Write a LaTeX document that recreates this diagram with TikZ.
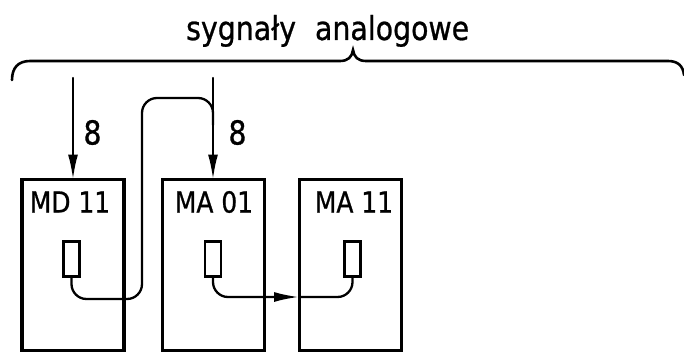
\documentclass[tikz,border=0pt]{standalone}
\usepackage{fontspec}
\setmainfont{DejaVu Sans}[FakeStretch=0.86, FakeBold=0.8]
\usetikzlibrary{arrows.meta}

\tikzset{
  module/.style={draw, line width=3.2pt, minimum width=102pt, minimum height=171pt,
    inner sep=0pt, outer sep=0pt},
  slot/.style={draw, line width=2.8pt, minimum width=16pt, minimum height=35pt,
    inner sep=0pt, outer sep=0pt},
  modlabel/.style={inner sep=0pt, font=\fontsize{29pt}{30pt}\selectfont},
  count/.style={inner sep=0pt, font=\fontsize{33pt}{34pt}\selectfont},
  wire/.style={line width=2.3pt, line cap=round, line join=round},
  feed/.style={wire, -{Latex[length=25pt, width=10pt]}},
  bracestroke/.style={line width=2.6pt, line cap=round},
}

\begin{document}
\begin{tikzpicture}[x=1pt, y=-1pt]
  \useasboundingbox (0,0) rectangle (684,353);

  % modules
  \node[module] (md)   at (73,265)    {};
  \node[module] (ma01) at (213.5,265) {};
  \node[module] (ma11) at (350.5,265) {};

  \node[modlabel] (mdl)   at (70,202)  {MD 11};
  \node[modlabel] (ma01l) at (214,202) {MA 01};
  \node[modlabel] (ma11l) at (354,202) {MA 11};

  % connectors inside modules
  \node[slot] (s1) at (71.5,259) {};
  \node[slot] (s2) at (213,259)  {};
  \node[slot] (s3) at (352.5,259) {};

  % analogue signal bus
  \draw[bracestroke]
    (12,80) .. controls (12,68) and (18,61) .. (30,61)
    -- (340,61) .. controls (348,61) and (352,57) .. (353,50)
    .. controls (354,57) and (358,61) .. (366,61)
    -- (668,61) .. controls (678,61) and (683,66) .. (684,75);
  \node[inner sep=0pt, anchor=base west, font=\fontsize{33pt}{34pt}\selectfont] (bus)
    at (186,40) {sygnały\hspace{19pt}analogowe};

  % inputs from the bus
  \coordinate (in1) at (73,78);
  \coordinate (in2) at (213,78);
  \draw[feed] (in1) -- (md.north);
  \draw[feed] (in2) -- (in2 |- ma01.north);
  \node[count] (c1) at (92.5,132.5) {8};
  \node[count] (c2) at (237.5,132.5) {8};

  % loop from MD 11 into the MA 01 input
  \coordinate (lb) at (142,299);
  \coordinate (lt) at (142,98);
  \coordinate (lj) at (213,125);
  \draw[wire, rounded corners=15pt] (s1.south) |- (lb) -- (lt) -| (lj);

  % link MA 01 -> MA 11
  \coordinate (e3) at (299,297);
  \draw[feed, rounded corners=15pt] (s2.south) |- (e3);
  \draw[wire, rounded corners=15pt] (e3) -| (s3.south);
\end{tikzpicture}
\end{document}
